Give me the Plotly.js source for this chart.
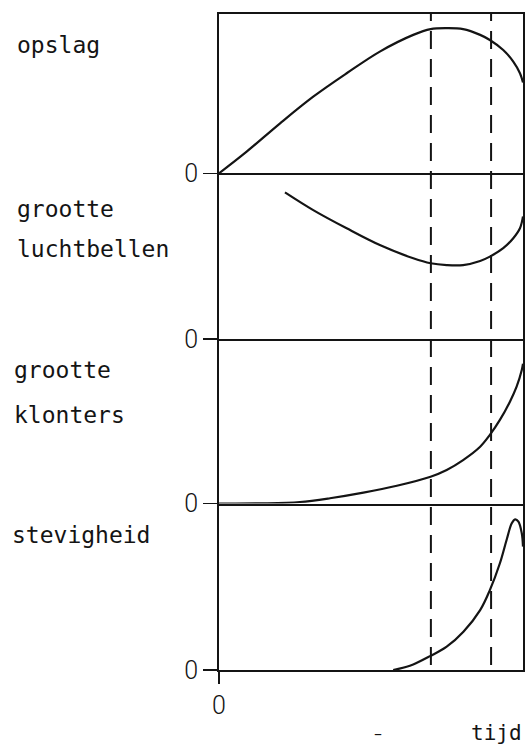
<!DOCTYPE html>
<html>
<head>
<meta charset="utf-8">
<script src="https://cdn.plot.ly/plotly-3.0.1.min.js"></script>
<style>
  html, body { margin: 0; padding: 0; background: #fff; }
  #chart { width: 525px; height: 745px; }
</style>
</head>
<body>
<div id="chart"></div>
<script>
// Four stacked process curves against time (arbitrary units, 0..100)

// opslag (overrun)
const opslagTime = [0, 9.1, 20.1, 31.0, 42.0, 52.9, 63.9, 69.6, 74.9, 80.3, 85.9, 89.1, 93.5, 96.8, 99.0, 100];
const opslagValue = [0, 13.6, 31.4, 48.1, 62.8, 76.4, 86.9, 90.5, 91.1, 90.5, 86.9, 83.7, 77.4, 70.1, 62.8, 57];

// grootte luchtbellen (air bubble size)
const bellenTime = [21.7, 31.0, 42.0, 52.9, 63.9, 69.6, 74.9, 80.3, 85.9, 89.1, 93.5, 96.8, 99.0, 100];
const bellenValue = [88.5, 77.8, 66.8, 56.7, 48.7, 45.7, 44.6, 44.6, 47.1, 49.7, 54.8, 60.8, 66.8, 74];

// grootte klonters (clump size)
const klontersTime = [0, 14.6, 26.6, 36.5, 47.5, 58.5, 69.6, 74.9, 80.3, 85.9, 89.1, 92.4, 95.7, 97.9, 99.6, 100];
const klontersValue = [0, 0.1, 0.9, 3.2, 6.6, 10.8, 16.3, 20.4, 26.4, 34.5, 41.7, 50.8, 61.9, 71.0, 81.2, 85];

// stevigheid (firmness)
const stevigTime = [57.3, 62.8, 69.6, 74.9, 80.4, 85.9, 89.1, 92.4, 94.6, 96.3, 97.4, 98.5, 99.6, 100];
const stevigValue = [0, 2.5, 8.5, 14.0, 23.0, 36.0, 48.0, 64.1, 78.1, 88.1, 90.5, 89.1, 82.1, 74.1];

// phase boundaries (dashed verticals)
const phaseMarks = [69.7, 89.5];

const panelLabels = [
  ["opslag"],
  ["grootte", "luchtbellen"],
  ["grootte", "klonters"],
  ["stevigheid"]
];
const zeroLabel = "0";
const timeLabel = "tijd";

// ---- layout geometry ----
const W = 525, H = 745;
const M = { l: 219, r: 2, t: 14, b: 75 };
const plotH = H - M.t - M.b;          // 656
const plotW = W - M.l - M.r;          // 304
const py = p => (H - M.b - p) / plotH;  // pixel row -> paper y
const px = p => (p - M.l) / plotW;      // pixel col -> paper x

// panel boundaries in pixel rows (top to bottom)
const edges = [14, 173.3, 339, 503.5, 670];
const domains = [];
for (let i = 0; i < 4; i++) domains.push([py(edges[i + 1]), py(edges[i])]);

const ink = "#141414";
const labelFont = { family: "DejaVu Sans Mono", size: 23, color: ink };
const zeroFont = { family: "Roboto", size: 25, color: ink, weight: 300 };

const series = [
  [opslagTime, opslagValue],
  [bellenTime, bellenValue],
  [klontersTime, klontersValue],
  [stevigTime, stevigValue]
];

const traces = series.map((s, i) => ({
  type: "scatter",
  mode: "lines",
  x: s[0],
  y: s[1],
  xaxis: i === 0 ? "x" : "x" + (i + 1),
  yaxis: i === 0 ? "y" : "y" + (i + 1),
  line: { color: ink, width: 2.2, shape: "spline", smoothing: 1 },
  hoverinfo: "skip"
}));

const layout = {
  width: W,
  height: H,
  margin: M,
  paper_bgcolor: "#fff",
  plot_bgcolor: "#fff",
  showlegend: false,
  shapes: [],
  annotations: []
};

for (let i = 0; i < 4; i++) {
  const xs = i === 0 ? "" : String(i + 1);
  const isBottom = i === 3;
  layout["xaxis" + xs] = {
    range: [0, 100],
    anchor: "y" + xs,
    matches: i === 0 ? undefined : "x",
    showline: true,
    linewidth: 2,
    linecolor: ink,
    mirror: i === 0,
    showgrid: false,
    zeroline: false,
    fixedrange: true,
    tickmode: "array",
    tickvals: isBottom ? [0] : [],
    ticktext: isBottom ? [zeroLabel] : [],
    ticks: isBottom ? "outside" : "",
    ticklen: 12,
    tickwidth: 2,
    tickcolor: ink,
    showticklabels: isBottom,
    tickfont: zeroFont
  };
  layout["yaxis" + xs] = {
    domain: domains[i],
    range: [0, 100],
    anchor: "x" + xs,
    showline: true,
    linewidth: 2,
    linecolor: ink,
    mirror: true,
    showgrid: false,
    zeroline: false,
    fixedrange: true,
    tickmode: "array",
    tickvals: [0],
    ticktext: [zeroLabel],
    ticks: "outside",
    ticklen: 14,
    tickwidth: 1.5,
    tickcolor: ink,
    tickfont: zeroFont
  };
}

// dashed phase boundaries across all panels
phaseMarks.forEach(t => {
  layout.shapes.push({
    type: "line",
    xref: "x",
    yref: "paper",
    x0: t, x1: t,
    y0: py(665), y1: 1,
    line: { color: ink, width: 2, dash: "18px,10px" }
  });
});

// panel labels, placed by baseline
const labelBaselines = [[53], [217, 257], [378, 423], [543]];
const labelLeft = [15, 15, 12, 10];
panelLabels.forEach((lines, i) => {
  lines.forEach((txt, j) => {
    layout.annotations.push({
      text: txt,
      xref: "paper", yref: "paper",
      x: px(labelLeft[i]), y: py(labelBaselines[i][j] - 8),
      xanchor: "left", yanchor: "middle",
      showarrow: false,
      font: labelFont
    });
  });
});

// time axis caption
layout.annotations.push({
  text: timeLabel,
  xref: "paper", yref: "paper",
  x: px(524), y: py(733),
  xanchor: "right", yanchor: "middle",
  showarrow: false,
  font: { family: "DejaVu Sans Mono", size: 21, color: ink }
});
layout.annotations.push({
  text: "–",
  xref: "paper", yref: "paper",
  x: px(378), y: py(744),
  xanchor: "center", yanchor: "bottom",
  borderpad: 0,
  showarrow: false,
  font: { family: "DejaVu Sans", size: 16, color: ink }
});

Plotly.newPlot("chart", traces, layout, { staticPlot: true, displayModeBar: false });
</script>
</body>
</html>
